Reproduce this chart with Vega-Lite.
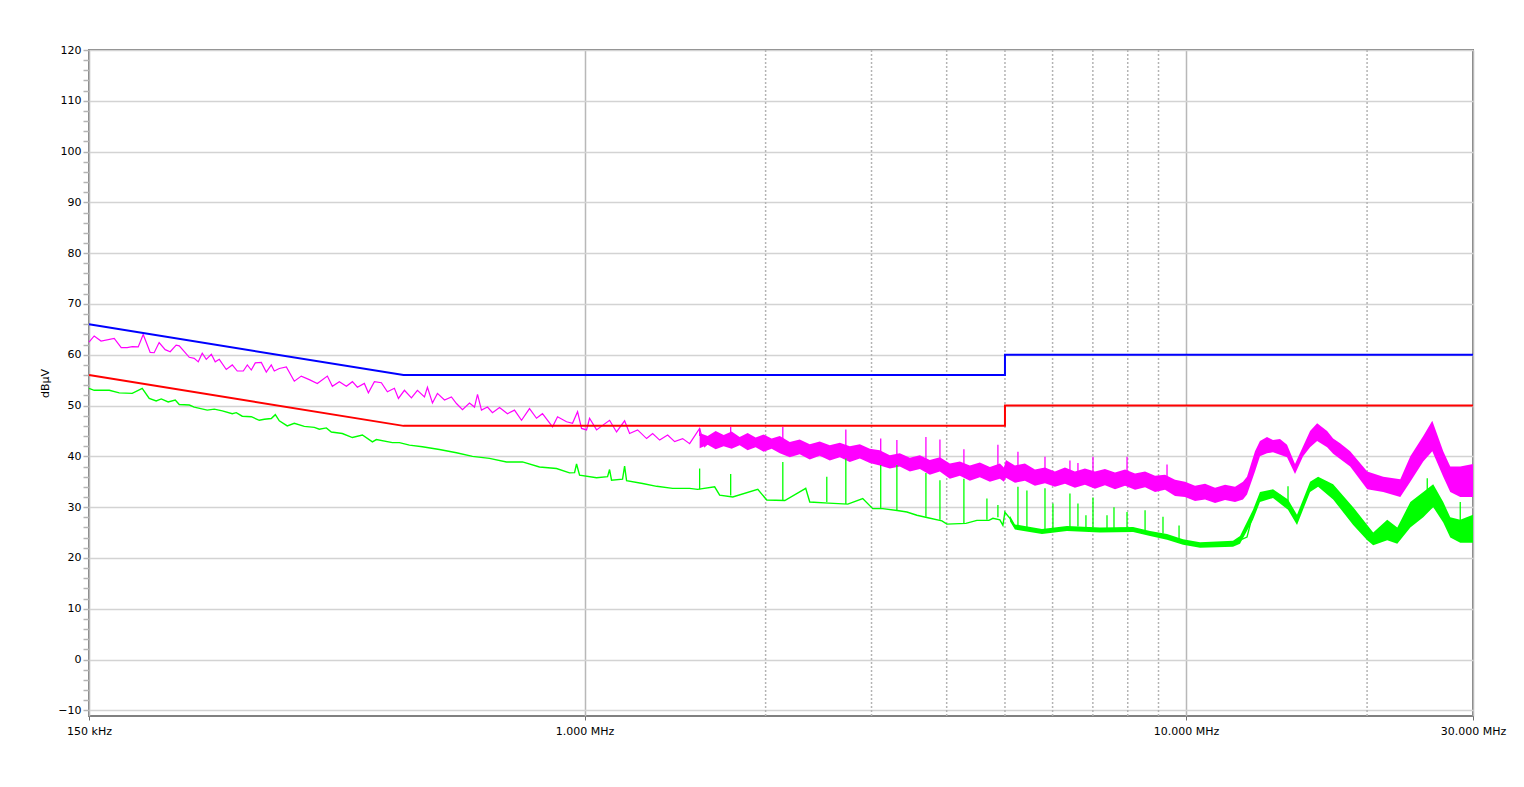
{
  "$schema": "https://vega.github.io/schema/vega-lite/v6.json",
  "width": 1384,
  "height": 666,
  "autosize": {"type": "none"},
  "padding": {"left": 89, "top": 50, "right": 51, "bottom": 71},
  "background": "white",
  "config": {"view": {"stroke": "#808080", "strokeWidth": 2}, "font": "DejaVu Sans"},
  "datasets": {
    "gridx": [{"f": 2}, {"f": 3}, {"f": 4}, {"f": 5}, {"f": 6}, {"f": 7}, {"f": 8}, {"f": 9}, {"f": 20}],
    "limits": [
      {"s": "QP", "i": 0, "f": 0.15, "v": 66}, {"s": "QP", "i": 1, "f": 0.5, "v": 56}, {"s": "QP", "i": 2, "f": 5, "v": 56}, {"s": "QP", "i": 3, "f": 5, "v": 60}, {"s": "QP", "i": 4, "f": 30, "v": 60},
      {"s": "AV", "i": 0, "f": 0.15, "v": 56}, {"s": "AV", "i": 1, "f": 0.5, "v": 46}, {"s": "AV", "i": 2, "f": 5, "v": 46}, {"s": "AV", "i": 3, "f": 5, "v": 50}, {"s": "AV", "i": 4, "f": 30, "v": 50}
    ],
    "pk": [
      {"f": 0.15, "v": 62.5}, {"f": 0.153, "v": 63.7}, {"f": 0.1571, "v": 62.7}, {"f": 0.1652, "v": 63.2}, {"f": 0.1697, "v": 61.4}, {"f": 0.1736, "v": 61.4}, {"f": 0.177, "v": 61.6}, {"f": 0.1811, "v": 61.55}, {"f": 0.1846, "v": 64.0}, {"f": 0.1896, "v": 60.45}, {"f": 0.1925, "v": 60.4}, {"f": 0.1962, "v": 62.4}, {"f": 0.2008, "v": 61.0}, {"f": 0.2047, "v": 60.6}, {"f": 0.2094, "v": 61.9}, {"f": 0.2119, "v": 61.75}, {"f": 0.2202, "v": 59.5}, {"f": 0.2244, "v": 59.3}, {"f": 0.2279, "v": 58.6}, {"f": 0.2314, "v": 60.3}, {"f": 0.235, "v": 59.1}, {"f": 0.2396, "v": 60.1}, {"f": 0.2432, "v": 58.6}, {"f": 0.247, "v": 59.1}, {"f": 0.2537, "v": 57.1}, {"f": 0.2596, "v": 58.0}, {"f": 0.2646, "v": 56.8}, {"f": 0.2708, "v": 56.8}, {"f": 0.275, "v": 58.0}, {"f": 0.2792, "v": 57.0}, {"f": 0.2835, "v": 58.4}, {"f": 0.2901, "v": 58.5}, {"f": 0.2957, "v": 56.6}, {"f": 0.3014, "v": 58.0}, {"f": 0.3049, "v": 56.8}, {"f": 0.3108, "v": 57.3}, {"f": 0.3193, "v": 57.6}, {"f": 0.3292, "v": 54.8}, {"f": 0.3381, "v": 55.8}, {"f": 0.3486, "v": 55.1}, {"f": 0.3595, "v": 54.35}, {"f": 0.3736, "v": 55.8}, {"f": 0.3808, "v": 53.8}, {"f": 0.3911, "v": 54.7}, {"f": 0.4018, "v": 53.8}, {"f": 0.4112, "v": 54.7}, {"f": 0.4191, "v": 53.6}, {"f": 0.4304, "v": 54.35}, {"f": 0.4371, "v": 52.5}, {"f": 0.4473, "v": 54.7}, {"f": 0.4594, "v": 54.5}, {"f": 0.4701, "v": 52.7}, {"f": 0.4829, "v": 53.4}, {"f": 0.4904, "v": 51.4}, {"f": 0.5018, "v": 53.0}, {"f": 0.5154, "v": 51.5}, {"f": 0.5274, "v": 53.0}, {"f": 0.5418, "v": 51.7}, {"f": 0.548, "v": 53.6}, {"f": 0.5586, "v": 50.5}, {"f": 0.5694, "v": 52.4}, {"f": 0.585, "v": 51.1}, {"f": 0.6007, "v": 51.7}, {"f": 0.6124, "v": 50.4}, {"f": 0.6267, "v": 49.2}, {"f": 0.6437, "v": 50.5}, {"f": 0.6562, "v": 49.7}, {"f": 0.6638, "v": 52.2}, {"f": 0.6739, "v": 49.1}, {"f": 0.6896, "v": 49.7}, {"f": 0.7029, "v": 48.6}, {"f": 0.7222, "v": 49.6}, {"f": 0.7446, "v": 48.4}, {"f": 0.7647, "v": 49.1}, {"f": 0.7856, "v": 47.1}, {"f": 0.81, "v": 49.4}, {"f": 0.832, "v": 47.5}, {"f": 0.8512, "v": 48.4}, {"f": 0.8847, "v": 45.8}, {"f": 0.9018, "v": 47.8}, {"f": 0.9333, "v": 46.8}, {"f": 0.955, "v": 46.5}, {"f": 0.9736, "v": 48.8}, {"f": 0.9886, "v": 45.5}, {"f": 1.0077, "v": 45.2}, {"f": 1.0193, "v": 47.5}, {"f": 1.0471, "v": 45.2}, {"f": 1.0715, "v": 46.1}, {"f": 1.1005, "v": 47.1}, {"f": 1.1303, "v": 44.8}, {"f": 1.1657, "v": 47.0}, {"f": 1.1882, "v": 44.5}, {"f": 1.2251, "v": 45.2}, {"f": 1.2681, "v": 43.5}, {"f": 1.2978, "v": 44.5}, {"f": 1.3332, "v": 43.2}, {"f": 1.3746, "v": 44.2}, {"f": 1.4118, "v": 42.9}, {"f": 1.4558, "v": 43.5}, {"f": 1.4952, "v": 42.5}, {"f": 1.5535, "v": 45.5}, {"f": 1.5838, "v": 41.9}, {"f": 1.6144, "v": 42.9}
    ],
    "pkband": [
      {"f": 1.5535, "lo": 41.6, "hi": 44.6}, {"f": 1.602, "lo": 42.3, "hi": 44.0}, {"f": 1.652, "lo": 41.4, "hi": 45.0}, {"f": 1.7033, "lo": 42.0, "hi": 44.2}, {"f": 1.7562, "lo": 41.5, "hi": 44.9}, {"f": 1.8108, "lo": 42.2, "hi": 43.8}, {"f": 1.867, "lo": 41.2, "hi": 44.6}, {"f": 1.9251, "lo": 41.8, "hi": 43.7}, {"f": 1.9849, "lo": 40.9, "hi": 44.3}, {"f": 2.0466, "lo": 41.5, "hi": 43.5}, {"f": 2.1116, "lo": 40.6, "hi": 44.0}, {"f": 2.1938, "lo": 39.8, "hi": 42.8}, {"f": 2.2789, "lo": 40.4, "hi": 43.3}, {"f": 2.3682, "lo": 39.4, "hi": 42.4}, {"f": 2.4604, "lo": 40.1, "hi": 42.9}, {"f": 2.5569, "lo": 39.2, "hi": 42.2}, {"f": 2.6573, "lo": 39.8, "hi": 42.7}, {"f": 2.7606, "lo": 38.9, "hi": 42.0}, {"f": 2.8689, "lo": 39.6, "hi": 42.4}, {"f": 2.9804, "lo": 38.7, "hi": 41.5}, {"f": 3.0962, "lo": 38.2, "hi": 41.2}, {"f": 3.2174, "lo": 37.6, "hi": 40.2}, {"f": 3.3425, "lo": 38.0, "hi": 40.6}, {"f": 3.4747, "lo": 37.0, "hi": 39.7}, {"f": 3.6102, "lo": 37.5, "hi": 40.2}, {"f": 3.7497, "lo": 36.4, "hi": 39.3}, {"f": 3.8967, "lo": 37.0, "hi": 39.8}, {"f": 4.0488, "lo": 35.6, "hi": 38.6}, {"f": 4.2073, "lo": 36.2, "hi": 39.0}, {"f": 4.3711, "lo": 35.2, "hi": 38.2}, {"f": 4.5414, "lo": 35.9, "hi": 38.8}, {"f": 4.7197, "lo": 35.0, "hi": 37.9}, {"f": 4.9038, "lo": 35.6, "hi": 38.6}, {"f": 4.98, "lo": 35.0, "hi": 37.8}, {"f": 5.018, "lo": 35.8, "hi": 39.3}, {"f": 5.1946, "lo": 34.8, "hi": 38.2}, {"f": 5.397, "lo": 35.2, "hi": 38.6}, {"f": 5.6085, "lo": 34.2, "hi": 37.4}, {"f": 5.8278, "lo": 34.7, "hi": 37.8}, {"f": 6.0534, "lo": 34.0, "hi": 37.0}, {"f": 6.2907, "lo": 34.6, "hi": 37.8}, {"f": 6.5356, "lo": 33.8, "hi": 37.0}, {"f": 6.7901, "lo": 34.4, "hi": 37.6}, {"f": 7.0569, "lo": 33.6, "hi": 37.0}, {"f": 7.3316, "lo": 34.3, "hi": 37.5}, {"f": 7.6195, "lo": 33.5, "hi": 36.8}, {"f": 7.9178, "lo": 34.2, "hi": 37.4}, {"f": 8.226, "lo": 33.4, "hi": 36.6}, {"f": 8.5488, "lo": 33.9, "hi": 37.0}, {"f": 8.8817, "lo": 33.0, "hi": 36.2}, {"f": 9.2278, "lo": 33.4, "hi": 36.4}, {"f": 9.5877, "lo": 32.2, "hi": 35.4}, {"f": 9.9609, "lo": 32.0, "hi": 35.0}, {"f": 10.351, "lo": 31.2, "hi": 34.2}, {"f": 10.755, "lo": 31.5, "hi": 34.6}, {"f": 11.176, "lo": 30.8, "hi": 33.8}, {"f": 11.612, "lo": 31.4, "hi": 34.4}, {"f": 12.064, "lo": 31.0, "hi": 34.0}, {"f": 12.436, "lo": 31.5, "hi": 35.0}, {"f": 12.629, "lo": 32.5, "hi": 36.0}, {"f": 13.022, "lo": 37.0, "hi": 41.0}, {"f": 13.272, "lo": 40.0, "hi": 43.0}, {"f": 13.634, "lo": 40.6, "hi": 43.8}, {"f": 13.951, "lo": 40.8, "hi": 43.2}, {"f": 14.33, "lo": 40.3, "hi": 43.4}, {"f": 14.721, "lo": 39.8, "hi": 42.3}, {"f": 15.178, "lo": 36.5, "hi": 38.5}, {"f": 15.655, "lo": 40.0, "hi": 42.0}, {"f": 16.079, "lo": 41.8, "hi": 45.0}, {"f": 16.519, "lo": 43.0, "hi": 46.5}, {"f": 17.163, "lo": 41.8, "hi": 45.0}, {"f": 17.563, "lo": 40.5, "hi": 43.5}, {"f": 18.038, "lo": 39.5, "hi": 42.6}, {"f": 18.745, "lo": 38.0, "hi": 41.0}, {"f": 20.011, "lo": 33.5, "hi": 37.0}, {"f": 21.275, "lo": 33.0, "hi": 36.0}, {"f": 22.711, "lo": 32.0, "hi": 35.5}, {"f": 23.601, "lo": 35.0, "hi": 40.0}, {"f": 24.8, "lo": 39.0, "hi": 44.0}, {"f": 25.67, "lo": 41.0, "hi": 47.0}, {"f": 26.77, "lo": 36.0, "hi": 41.0}, {"f": 27.5, "lo": 33.0, "hi": 38.0}, {"f": 28.57, "lo": 32.0, "hi": 38.0}, {"f": 30.0, "lo": 32.0, "hi": 38.5}
    ],
    "pkspikes": [
      {"f": 1.5535, "lo": 44.0, "hi": 45.5}, {"f": 1.7496, "lo": 43.0, "hi": 45.8}, {"f": 2.1361, "lo": 42.0, "hi": 45.8}, {"f": 2.7189, "lo": 41.0, "hi": 45.3}, {"f": 3.1073, "lo": 40.0, "hi": 43.5}, {"f": 3.3057, "lo": 39.5, "hi": 43.2}, {"f": 3.6945, "lo": 38.5, "hi": 43.8}, {"f": 3.8981, "lo": 38.0, "hi": 43.3}, {"f": 4.2727, "lo": 37.0, "hi": 41.4}, {"f": 4.8667, "lo": 37.0, "hi": 42.3}, {"f": 5.2547, "lo": 37.0, "hi": 40.9}, {"f": 5.8278, "lo": 36.5, "hi": 39.9}, {"f": 6.4121, "lo": 36.5, "hi": 39.2}, {"f": 6.6115, "lo": 36.5, "hi": 38.7}, {"f": 7.0035, "lo": 36.5, "hi": 39.9}, {"f": 7.9785, "lo": 36.5, "hi": 39.9}, {"f": 9.2982, "lo": 35.5, "hi": 38.4}
    ],
    "av": [
      {"f": 0.15, "v": 53.4}, {"f": 0.153, "v": 53.0}, {"f": 0.1621, "v": 53.0}, {"f": 0.1684, "v": 52.5}, {"f": 0.177, "v": 52.4}, {"f": 0.1839, "v": 53.4}, {"f": 0.1889, "v": 51.4}, {"f": 0.194, "v": 50.9}, {"f": 0.1978, "v": 51.3}, {"f": 0.2031, "v": 50.7}, {"f": 0.2087, "v": 51.1}, {"f": 0.2119, "v": 50.2}, {"f": 0.2202, "v": 50.1}, {"f": 0.2244, "v": 49.7}, {"f": 0.2359, "v": 49.1}, {"f": 0.2423, "v": 49.3}, {"f": 0.2499, "v": 48.95}, {"f": 0.2596, "v": 48.4}, {"f": 0.2636, "v": 48.6}, {"f": 0.2697, "v": 47.9}, {"f": 0.2792, "v": 47.8}, {"f": 0.2879, "v": 47.1}, {"f": 0.2935, "v": 47.3}, {"f": 0.3014, "v": 47.45}, {"f": 0.3061, "v": 48.2}, {"f": 0.3108, "v": 47.0}, {"f": 0.3204, "v": 46.0}, {"f": 0.3292, "v": 46.5}, {"f": 0.342, "v": 45.9}, {"f": 0.3554, "v": 45.7}, {"f": 0.3623, "v": 45.35}, {"f": 0.3721, "v": 45.6}, {"f": 0.3793, "v": 44.8}, {"f": 0.3956, "v": 44.5}, {"f": 0.4112, "v": 43.7}, {"f": 0.4272, "v": 44.2}, {"f": 0.4439, "v": 42.85}, {"f": 0.4507, "v": 43.3}, {"f": 0.4792, "v": 42.7}, {"f": 0.4923, "v": 42.7}, {"f": 0.5115, "v": 42.2}, {"f": 0.5375, "v": 41.9}, {"f": 0.5737, "v": 41.35}, {"f": 0.6124, "v": 40.7}, {"f": 0.6511, "v": 40.0}, {"f": 0.6949, "v": 39.6}, {"f": 0.7417, "v": 38.9}, {"f": 0.7885, "v": 38.9}, {"f": 0.8416, "v": 37.9}, {"f": 0.8982, "v": 37.6}, {"f": 0.9441, "v": 36.75}, {"f": 0.9625, "v": 36.8}, {"f": 0.9698, "v": 38.5}, {"f": 0.9811, "v": 36.3}, {"f": 1.0471, "v": 35.8}, {"f": 1.0921, "v": 36.0}, {"f": 1.1005, "v": 37.4}, {"f": 1.1088, "v": 35.3}, {"f": 1.1566, "v": 35.5}, {"f": 1.1657, "v": 38.1}, {"f": 1.1746, "v": 35.2}, {"f": 1.2489, "v": 34.65}, {"f": 1.318, "v": 34.1}, {"f": 1.4009, "v": 33.7}, {"f": 1.4952, "v": 33.7}, {"f": 1.5417, "v": 33.5}, {"f": 1.6455, "v": 34.0}, {"f": 1.6773, "v": 32.35}, {"f": 1.7633, "v": 32.0}, {"f": 1.9409, "v": 33.5}, {"f": 2.0088, "v": 31.4}, {"f": 2.1524, "v": 31.3}, {"f": 2.3319, "v": 33.7}, {"f": 2.3682, "v": 31.0}, {"f": 2.5468, "v": 30.8}, {"f": 2.7397, "v": 30.6}, {"f": 2.9007, "v": 31.7}, {"f": 3.0137, "v": 29.7}, {"f": 3.131, "v": 29.7}, {"f": 3.3317, "v": 29.3}, {"f": 3.4353, "v": 29.05}, {"f": 3.569, "v": 28.4}, {"f": 3.7227, "v": 27.9}, {"f": 3.9279, "v": 27.3}, {"f": 4.0032, "v": 26.65}, {"f": 4.3053, "v": 26.8}, {"f": 4.4904, "v": 27.4}, {"f": 4.7018, "v": 27.4}, {"f": 4.7746, "v": 27.8}, {"f": 4.9038, "v": 27.5}, {"f": 4.9606, "v": 26.4}, {"f": 4.9985, "v": 29.0}, {"f": 5.0961, "v": 27.8}, {"f": 5.1946, "v": 26.1}, {"f": 5.5012, "v": 25.8}, {"f": 5.7611, "v": 25.1}, {"f": 5.9841, "v": 25.6}, {"f": 6.3387, "v": 25.8}, {"f": 6.8171, "v": 25.9}, {"f": 7.1932, "v": 25.5}, {"f": 7.768, "v": 25.8}, {"f": 8.1642, "v": 25.6}, {"f": 8.714, "v": 24.8}, {"f": 9.2982, "v": 24.15}, {"f": 9.8855, "v": 23.15}, {"f": 10.551, "v": 22.5}, {"f": 11.261, "v": 22.5}, {"f": 11.97, "v": 22.8}, {"f": 12.296, "v": 23.5}, {"f": 12.629, "v": 24.1}, {"f": 12.923, "v": 28.75}, {"f": 13.272, "v": 32.0}, {"f": 13.634, "v": 32.7}, {"f": 14.33, "v": 32.35}, {"f": 14.776, "v": 30.7}, {"f": 15.294, "v": 27.4}, {"f": 15.655, "v": 30.7}, {"f": 16.079, "v": 34.0}, {"f": 16.58, "v": 35.0}, {"f": 17.163, "v": 34.0}, {"f": 18.038, "v": 30.7}, {"f": 18.962, "v": 28.1}, {"f": 20.011, "v": 24.15}, {"f": 20.474, "v": 23.15}, {"f": 21.604, "v": 25.2}, {"f": 22.451, "v": 23.5}, {"f": 23.33, "v": 29.4}, {"f": 24.5, "v": 31.4}, {"f": 25.76, "v": 33.3}, {"f": 26.46, "v": 30.0}, {"f": 27.5, "v": 25.45}, {"f": 28.57, "v": 25.2}, {"f": 30.0, "v": 25.45}
    ],
    "avband": [
      {"f": 5.0961, "lo": 27.2, "hi": 28.3}, {"f": 5.1946, "lo": 25.6, "hi": 26.6}, {"f": 5.7611, "lo": 24.7, "hi": 25.7}, {"f": 6.3387, "lo": 25.3, "hi": 26.3}, {"f": 7.1932, "lo": 25.0, "hi": 26.0}, {"f": 8.1642, "lo": 25.1, "hi": 26.1}, {"f": 8.714, "lo": 24.3, "hi": 25.3}, {"f": 9.2982, "lo": 23.6, "hi": 24.7}, {"f": 9.8855, "lo": 22.6, "hi": 23.7}, {"f": 10.551, "lo": 22.0, "hi": 23.1}, {"f": 11.97, "lo": 22.2, "hi": 23.4}, {"f": 12.296, "lo": 22.8, "hi": 24.3}, {"f": 12.923, "lo": 27.5, "hi": 29.5}, {"f": 13.272, "lo": 31.0, "hi": 33.0}, {"f": 13.951, "lo": 31.8, "hi": 33.5}, {"f": 14.776, "lo": 29.5, "hi": 31.5}, {"f": 15.294, "lo": 26.5, "hi": 28.5}, {"f": 16.079, "lo": 33.0, "hi": 35.0}, {"f": 16.58, "lo": 34.0, "hi": 36.0}, {"f": 17.563, "lo": 31.5, "hi": 34.5}, {"f": 18.962, "lo": 26.5, "hi": 30.0}, {"f": 20.011, "lo": 23.5, "hi": 26.5}, {"f": 20.474, "lo": 22.5, "hi": 25.0}, {"f": 21.604, "lo": 23.5, "hi": 27.5}, {"f": 22.451, "lo": 22.8, "hi": 26.0}, {"f": 23.601, "lo": 26.0, "hi": 31.0}, {"f": 24.8, "lo": 28.0, "hi": 33.0}, {"f": 25.76, "lo": 30.0, "hi": 34.5}, {"f": 26.77, "lo": 27.0, "hi": 31.0}, {"f": 27.5, "lo": 24.0, "hi": 28.0}, {"f": 28.57, "lo": 23.0, "hi": 27.5}, {"f": 30.0, "lo": 23.0, "hi": 28.5}
    ],
    "avspikes": [
      {"f": 1.5535, "lo": 33.5, "hi": 37.6}, {"f": 1.7496, "lo": 32.3, "hi": 36.5}, {"f": 2.1361, "lo": 31.3, "hi": 38.9}, {"f": 2.5278, "lo": 31.0, "hi": 36.0}, {"f": 2.7189, "lo": 30.6, "hi": 39.6}, {"f": 3.1073, "lo": 29.7, "hi": 38.3}, {"f": 3.3057, "lo": 29.4, "hi": 38.3}, {"f": 3.6945, "lo": 28.1, "hi": 36.7}, {"f": 3.8981, "lo": 27.5, "hi": 35.3}, {"f": 4.2727, "lo": 26.8, "hi": 35.6}, {"f": 4.6663, "lo": 27.5, "hi": 31.7}, {"f": 4.8667, "lo": 28.0, "hi": 30.4}, {"f": 5.2547, "lo": 26.2, "hi": 34.0}, {"f": 5.4382, "lo": 26.0, "hi": 33.3}, {"f": 5.8278, "lo": 25.3, "hi": 33.7}, {"f": 6.0076, "lo": 25.6, "hi": 30.7}, {"f": 6.4121, "lo": 25.9, "hi": 32.7}, {"f": 6.6115, "lo": 26.2, "hi": 30.7}, {"f": 6.8171, "lo": 26.0, "hi": 28.4}, {"f": 7.0035, "lo": 26.0, "hi": 31.9}, {"f": 7.3895, "lo": 25.8, "hi": 28.4}, {"f": 7.5897, "lo": 25.8, "hi": 30.0}, {"f": 7.9785, "lo": 25.8, "hi": 29.05}, {"f": 8.5488, "lo": 25.5, "hi": 29.4}, {"f": 9.1558, "lo": 24.8, "hi": 28.1}, {"f": 9.7363, "lo": 23.5, "hi": 26.4}, {"f": 14.776, "lo": 31.0, "hi": 34.1}, {"f": 25.18, "lo": 32.0, "hi": 35.7}, {"f": 28.57, "lo": 27.0, "hi": 31.0}
    ]
  },
  "encoding": {
    "x": {
      "field": "f",
      "type": "quantitative",
      "scale": {"type": "log", "domain": [0.15, 30], "nice": false, "zero": false},
      "axis": {
        "values": [0.15, 1, 10, 30],
        "labelExpr": "datum.value < 0.5 ? '150 kHz' : format(datum.value, '.3f') + ' MHz'",
        "title": null,
        "domain": false,
        "grid": true,
        "gridColor": "#b8b8b8",
        "gridWidth": 1.5,
        "ticks": true,
        "tickSize": 4,
        "tickColor": "#707070",
        "labelPadding": 5,
        "labelFont": "DejaVu Sans",
        "labelFontSize": 11,
        "labelColor": "#000000",
        "labelFlush": false,
        "labelOverlap": false
      }
    }
  },
  "layer": [
    {
      "data": {"name": "gridx"},
      "mark": {"type": "rule", "color": "#b4b4b4", "strokeWidth": 1.5, "strokeDash": [2, 2]},
      "encoding": {}
    },
    {
      "data": {"name": "pkband"},
      "mark": {"type": "area", "color": "#ff00ff", "opacity": 1},
      "encoding": {
        "y": {
          "field": "lo",
          "type": "quantitative",
          "scale": {"domain": [-11.12, 120], "nice": false, "zero": false},
          "axis": {
            "orient": "left",
            "values": [-10, 0, 10, 20, 30, 40, 50, 60, 70, 80, 90, 100, 110, 120],
            "grid": true,
            "gridColor": "#d3d3d3",
            "gridWidth": 1.5,
            "ticks": false,
            "tickSize": 0,
            "domain": false,
            "labelPadding": 8,
            "labelFont": "DejaVu Sans",
            "labelFontSize": 11,
            "labelColor": "#000000",
            "title": "dBµV",
            "titleFont": "DejaVu Sans",
            "titleFontSize": 11,
            "titleFontWeight": "normal",
            "titleColor": "#000000",
            "titlePadding": 7
          }
        },
        "y2": {"field": "hi"}
      }
    },
    {
      "data": {"name": "pk"},
      "mark": {"type": "line", "color": "#ff00ff", "strokeWidth": 1.2},
      "encoding": {
        "y": {
          "field": "v",
          "type": "quantitative",
          "scale": {"domain": [-11.12, 120], "nice": false, "zero": false},
          "axis": {
            "orient": "left",
            "values": [-10, -8, -6, -4, -2, 0, 2, 4, 6, 8, 10, 12, 14, 16, 18, 20, 22, 24, 26, 28, 30, 32, 34, 36, 38, 40, 42, 44, 46, 48, 50, 52, 54, 56, 58, 60, 62, 64, 66, 68, 70, 72, 74, 76, 78, 80, 82, 84, 86, 88, 90, 92, 94, 96, 98, 100, 102, 104, 106, 108, 110, 112, 114, 116, 118, 120],
            "grid": false,
            "labels": false,
            "ticks": true,
            "tickSize": 6,
            "tickColor": "#b4b4b4",
            "tickWidth": 1.5,
            "domain": false,
            "title": null
          }
        }
      }
    },
    {
      "data": {"name": "pkspikes"},
      "mark": {"type": "rule", "color": "#ff00ff", "strokeWidth": 1.3},
      "encoding": {
        "y": {"field": "lo", "type": "quantitative", "scale": {"domain": [-11.12, 120], "nice": false, "zero": false}, "axis": null},
        "y2": {"field": "hi"}
      }
    },
    {
      "data": {"name": "avband"},
      "mark": {"type": "area", "color": "#00ff00"},
      "encoding": {
        "y": {"field": "lo", "type": "quantitative", "scale": {"domain": [-11.12, 120], "nice": false, "zero": false}, "axis": null},
        "y2": {"field": "hi"}
      }
    },
    {
      "data": {"name": "av"},
      "mark": {"type": "line", "color": "#00ff00", "strokeWidth": 1.4},
      "encoding": {
        "y": {"field": "v", "type": "quantitative", "scale": {"domain": [-11.12, 120], "nice": false, "zero": false}, "axis": null}
      }
    },
    {
      "data": {"name": "avspikes"},
      "mark": {"type": "rule", "color": "#00ff00", "strokeWidth": 1.3},
      "encoding": {
        "y": {"field": "lo", "type": "quantitative", "scale": {"domain": [-11.12, 120], "nice": false, "zero": false}, "axis": null},
        "y2": {"field": "hi"}
      }
    },
    {
      "data": {"name": "limits"},
      "transform": [{"filter": "datum.s == 'QP'"}],
      "mark": {"type": "line", "color": "#0000ff", "strokeWidth": 2},
      "encoding": {
        "y": {"field": "v", "type": "quantitative", "scale": {"domain": [-11.12, 120], "nice": false, "zero": false}, "axis": null},
        "order": {"field": "i", "type": "quantitative"}
      }
    },
    {
      "data": {"name": "limits"},
      "transform": [{"filter": "datum.s == 'AV'"}],
      "mark": {"type": "line", "color": "#ff0000", "strokeWidth": 2},
      "encoding": {
        "y": {"field": "v", "type": "quantitative", "scale": {"domain": [-11.12, 120], "nice": false, "zero": false}, "axis": null},
        "order": {"field": "i", "type": "quantitative"}
      }
    }
  ],
  "resolve": {"axis": {"y": "independent"}}
}
